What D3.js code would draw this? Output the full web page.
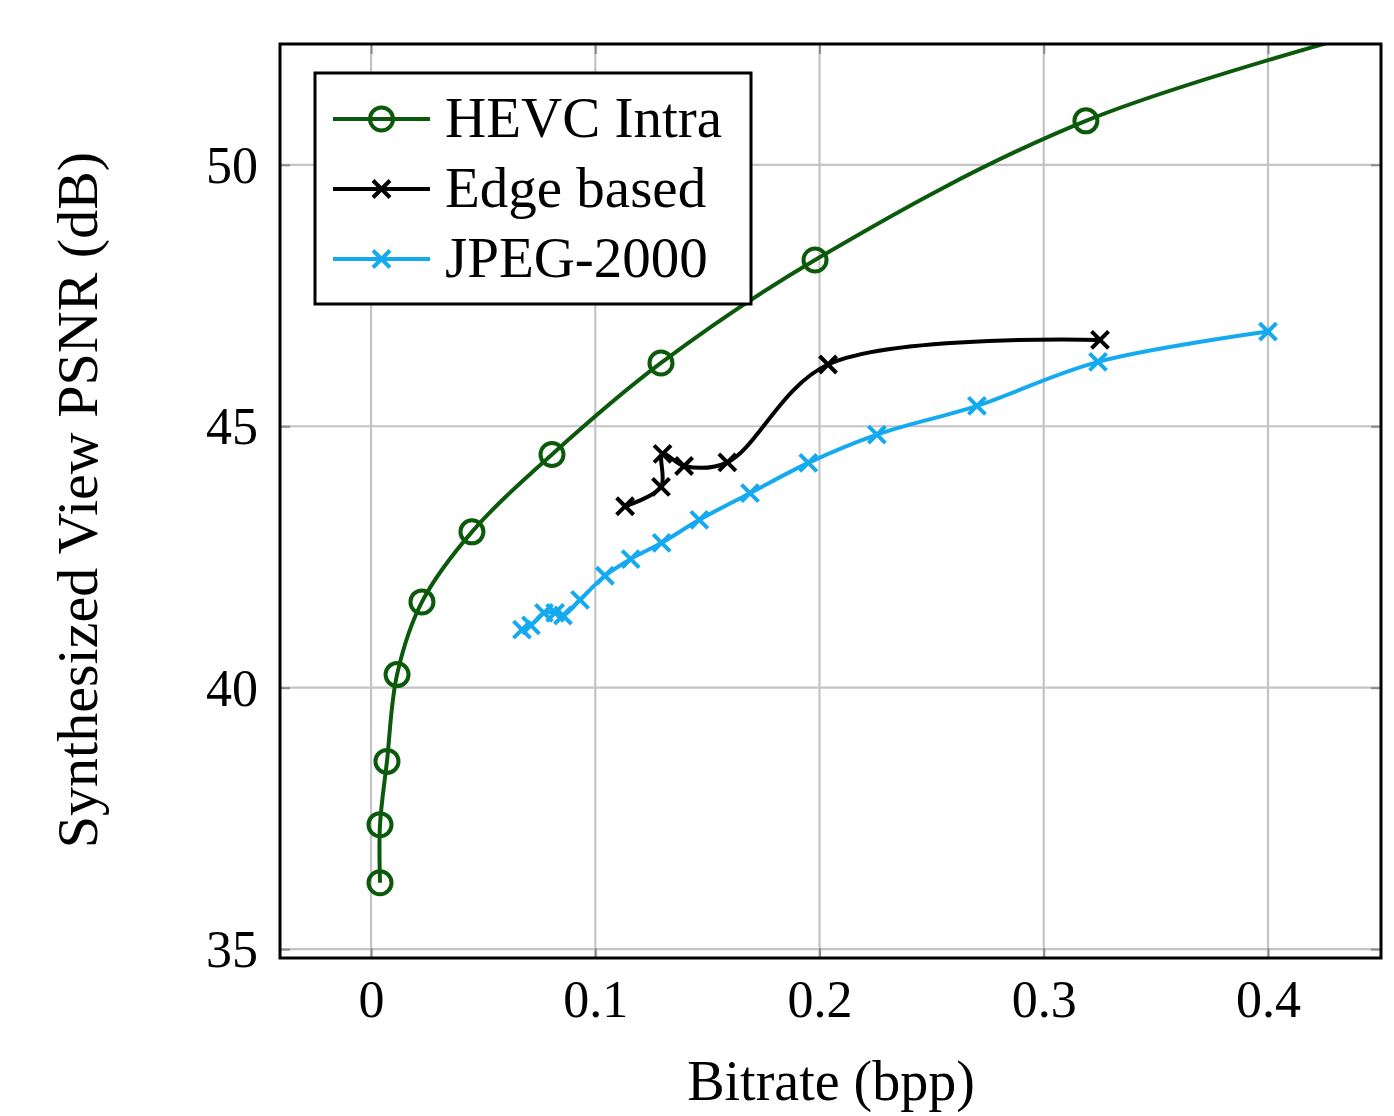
<!DOCTYPE html>
<html><head><meta charset="utf-8">
<script src="https://cdn.jsdelivr.net/npm/d3@7"></script>
<style>body{margin:0;background:#fff;} svg{display:block;}</style>
</head><body>
<svg id="chart" width="1394" height="1116"></svg>
<script>
const seriesNames = ["HEVC Intra", "Edge based", "JPEG-2000"];
const hevcX = [0.004, 0.004, 0.0071, 0.0116, 0.0227, 0.045, 0.0807, 0.1293, 0.198, 0.3188, 0.50];
const hevcY = [36.27, 37.38, 38.59, 40.25, 41.64, 42.98, 44.46, 46.21, 48.18, 50.84, 53.2];
const edgeX = [0.1133, 0.1293, 0.1300, 0.1396, 0.1589, 0.2038, 0.3251];
const edgeY = [43.47, 43.84, 44.47, 44.24, 44.31, 46.18, 46.65];
const jpegX = [0.0673, 0.0713, 0.0771, 0.0821, 0.0856, 0.0932, 0.1043, 0.1158, 0.1296, 0.1464, 0.169, 0.195, 0.2256, 0.2702, 0.3242, 0.400];
const jpegY = [41.11, 41.19, 41.43, 41.43, 41.38, 41.68, 42.14, 42.46, 42.77, 43.21, 43.72, 44.30, 44.84, 45.39, 46.23, 46.81];
const xTicks = [0, 0.1, 0.2, 0.3, 0.4];
const yTicks = [35, 40, 45, 50];
const xLabel = "Bitrate (bpp)";
const yLabel = "Synthesized View PSNR (dB)";

const colors = ["#0b5a0b", "#000000", "#15aaf0"];
const markers = ["circle", "cross", "cross"];
const L = 280, T = 44, R = 1381, B = 958;
const svg = d3.select("#chart");
const x = d3.scaleLinear().domain([-0.0406, 0.4504]).range([L, R]);
const y = d3.scaleLinear().domain([34.83, 52.31]).range([B, T]);
const serif = "'Liberation Serif', 'DejaVu Serif', serif";

svg.append("defs").append("clipPath").attr("id", "clip")
  .append("rect").attr("x", L).attr("y", T).attr("width", R - L).attr("height", B - T);

// grid
const grid = svg.append("g");
grid.selectAll("line.gx").data(xTicks).join("line")
  .attr("x1", d => x(d)).attr("x2", d => x(d)).attr("y1", T).attr("y2", B)
  .attr("stroke", "#c4c4c4").attr("stroke-width", 2.2);
grid.selectAll("line.gy").data(yTicks).join("line")
  .attr("y1", d => y(d)).attr("y2", d => y(d)).attr("x1", L).attr("x2", R)
  .attr("stroke", "#c4c4c4").attr("stroke-width", 2.2);

// axes (ticks inside, via d3 axis)
const xAxis = svg.append("g").attr("transform", `translate(0,${B})`)
  .call(d3.axisBottom(x).tickValues(xTicks).tickSize(-10).tickPadding(22).tickFormat(d => d === 0 ? "0" : d3.format(".1f")(d)));
const xAxisTop = svg.append("g").attr("transform", `translate(0,${T})`)
  .call(d3.axisTop(x).tickValues(xTicks).tickSize(-10).tickFormat(""));
const yAxis = svg.append("g").attr("transform", `translate(${L},0)`)
  .call(d3.axisLeft(y).tickValues(yTicks).tickSize(-10).tickPadding(22));
const yAxisR = svg.append("g").attr("transform", `translate(${R},0)`)
  .call(d3.axisRight(y).tickValues(yTicks).tickSize(-10).tickFormat(""));
[xAxis, xAxisTop, yAxis, yAxisR].forEach(g => {
  g.select(".domain").remove();
  g.selectAll(".tick line").attr("stroke", "#8a8a8a").attr("stroke-width", 2);
  g.selectAll("text").attr("font-family", serif).attr("font-size", 52).attr("fill", "#000");
});
xAxis.selectAll("text").attr("dy", "0.71em");
yAxis.selectAll("text").attr("dy", "0.34em");

// series
const data = [
  hevcX.map((v, i) => [v, hevcY[i]]),
  edgeX.map((v, i) => [v, edgeY[i]]),
  jpegX.map((v, i) => [v, jpegY[i]])
];
const line = d3.line().x(d => x(d[0])).y(d => y(d[1])).curve(d3.curveCatmullRom.alpha(0.5));
const plot = svg.append("g").attr("clip-path", "url(#clip)");

function drawMarker(g, type, cx, cy, color) {
  if (type === "circle") {
    g.append("circle").attr("cx", cx).attr("cy", cy).attr("r", 11.5)
      .attr("fill", "none").attr("stroke", color).attr("stroke-width", 4);
  } else {
    const s = 8.5;
    g.append("path").attr("d", `M${cx - s},${cy - s}L${cx + s},${cy + s}M${cx - s},${cy + s}L${cx + s},${cy - s}`)
      .attr("stroke", color).attr("stroke-width", 4).attr("fill", "none");
  }
}

data.forEach((pts, k) => {
  plot.append("path").datum(pts).attr("d", line)
    .attr("fill", "none").attr("stroke", colors[k]).attr("stroke-width", 4);
});
data.forEach((pts, k) => {
  const g = plot.append("g");
  pts.forEach(p => drawMarker(g, markers[k], x(p[0]), y(p[1]), colors[k]));
});

// frame
svg.append("rect").attr("x", L).attr("y", T).attr("width", R - L).attr("height", B - T)
  .attr("fill", "none").attr("stroke", "#000").attr("stroke-width", 3);

// legend
const lg = svg.append("g");
lg.append("rect").attr("x", 315).attr("y", 73).attr("width", 436).attr("height", 231)
  .attr("fill", "#fff").attr("stroke", "#000").attr("stroke-width", 3);
seriesNames.forEach((name, i) => {
  const cy = 119 + i * 70;
  lg.append("line").attr("x1", 333).attr("x2", 430).attr("y1", cy).attr("y2", cy)
    .attr("stroke", colors[i]).attr("stroke-width", 4);
  drawMarker(lg, markers[i], 381.5, cy, colors[i]);
  lg.append("text").attr("x", 445).attr("y", cy + 18).text(name)
    .attr("font-family", serif).attr("font-size", 57).attr("fill", "#000");
});

// axis labels
svg.append("text").attr("x", 831).attr("y", 1100).attr("text-anchor", "middle")
  .attr("font-family", serif).attr("font-size", 56).attr("fill", "#000").text(xLabel);
svg.append("text").attr("transform", "translate(97,500) rotate(-90)").attr("text-anchor", "middle")
  .attr("font-family", serif).attr("font-size", 58).attr("fill", "#000").text(yLabel);
</script>
</body></html>
